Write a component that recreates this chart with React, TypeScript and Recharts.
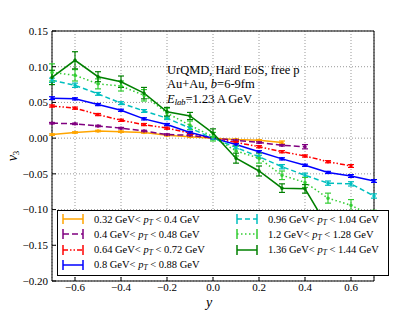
import React from "react";
import {
  LineChart,
  Line,
  XAxis,
  YAxis,
  CartesianGrid,
  ErrorBar,
  ReferenceArea,
} from "recharts";

const Y_VALUES = [-0.7, -0.6, -0.5, -0.4, -0.3, -0.2, -0.1, 0, 0.1, 0.2, 0.3, 0.4, 0.5, 0.6, 0.7];

const V3_032 = [0.005, 0.008, 0.01, 0.009, 0.008, 0.004, 0.002, 0.0, -0.002, -0.003, -0.006];
const V3_040 = [0.021, 0.02, 0.017, 0.014, 0.01, 0.005, 0.004, 0.0, -0.003, -0.006, -0.01, -0.012];
const V3_064 = [0.045, 0.042, 0.033, 0.025, 0.019, 0.014, 0.007, 0.0, -0.006, -0.012, -0.019, -0.025, -0.033, -0.039];
const V3_080 = [0.056, 0.055, 0.047, 0.039, 0.027, 0.019, 0.008, 0.0, -0.009, -0.019, -0.029, -0.038, -0.048, -0.053, -0.06];
const V3_096 = [0.081, 0.074, 0.062, 0.049, 0.038, 0.028, 0.014, 0.0, -0.013, -0.026, -0.04, -0.052, -0.063, -0.064, -0.081];
const V3_120 = [0.092, 0.088, 0.076, 0.073, 0.06, 0.035, 0.018, 0.002, -0.018, -0.028, -0.052, -0.062, -0.084, -0.094, -0.11];
const V3_136 = [0.085, 0.109, 0.086, 0.079, 0.063, 0.037, 0.031, 0.007, -0.028, -0.046, -0.07, -0.071, -0.125, -0.15, -0.17];

const ERR_032 = [0.001, 0.001, 0.001, 0.001, 0.001, 0.001, 0.001, 0.001, 0.001, 0.001, 0.002];
const ERR_040 = [0.001, 0.001, 0.001, 0.001, 0.001, 0.001, 0.001, 0.001, 0.001, 0.001, 0.001, 0.003];
const ERR_064 = [0.0015, 0.0015, 0.0015, 0.0015, 0.0015, 0.0015, 0.0015, 0.0015, 0.0015, 0.0015, 0.0015, 0.0015, 0.0015, 0.002];
const ERR_080 = [0.002, 0.0015, 0.0015, 0.0015, 0.0015, 0.0015, 0.0015, 0.0015, 0.0015, 0.0015, 0.0015, 0.0015, 0.0015, 0.002, 0.002];
const ERR_096 = [0.003, 0.003, 0.002, 0.002, 0.002, 0.002, 0.002, 0.002, 0.002, 0.002, 0.003, 0.003, 0.003, 0.003, 0.003];
const ERR_120 = [0.012, 0.008, 0.007, 0.007, 0.008, 0.007, 0.006, 0.006, 0.007, 0.007, 0.006, 0.007, 0.007, 0.008, 0.009];
const ERR_136 = [0.01, 0.012, 0.007, 0.008, 0.008, 0.006, 0.005, 0.006, 0.007, 0.007, 0.006, 0.006, 0.008, 0.01, 0.012];

const Y_TICKS = [-0.2, -0.15, -0.1, -0.05, 0, 0.05, 0.1, 0.15];
const X_TICKS = [-0.6, -0.4, -0.2, 0, 0.2, 0.4, 0.6];

const SERIES = [
  { key: "a", lo: "0.32", hi: "0.4", vals: V3_032, errs: ERR_032, color: "#ffa500", dash: undefined },
  { key: "b", lo: "0.4", hi: "0.48", vals: V3_040, errs: ERR_040, color: "#800080", dash: "6 3" },
  { key: "c", lo: "0.64", hi: "0.72", vals: V3_064, errs: ERR_064, color: "#ff0000", dash: "5 2 1.5 2 1.5 2" },
  { key: "d", lo: "0.8", hi: "0.88", vals: V3_080, errs: ERR_080, color: "#0000ff", dash: undefined },
  { key: "e", lo: "0.96", hi: "1.04", vals: V3_096, errs: ERR_096, color: "#00bfbf", dash: "5 3" },
  { key: "f", lo: "1.2", hi: "1.28", vals: V3_120, errs: ERR_120, color: "#32cd32", dash: "1.5 2.5" },
  { key: "g", lo: "1.36", hi: "1.44", vals: V3_136, errs: ERR_136, color: "#008000", dash: undefined },
];

const data = Y_VALUES.map((y, i) => {
  const row: any = { y };
  SERIES.forEach((s) => {
    if (i < s.vals.length) {
      row[s.key] = s.vals[i];
      row[s.key + "Err"] = s.errs[i];
    }
  });
  return row;
});

const SERIF = "'Liberation Serif', 'Times New Roman', serif";
const fmt = (d: number) => (v: number) =>
  (v < 0 ? "\u2212" : "") + Math.abs(v).toFixed(d);

const LegendHandle = ({ color, dash }: { color: string; dash?: string }) => (
  <svg width={22} height={12} style={{ display: "block" }}>
    <line x1={1} y1={6} x2={21} y2={6} stroke={color} strokeWidth={1.5} strokeDasharray={dash} />
    <line x1={1} y1={1} x2={1} y2={11} stroke={color} strokeWidth={1.5} />
    <line x1={21} y1={1} x2={21} y2={11} stroke={color} strokeWidth={1.5} />
  </svg>
);

const LegendLabel = ({ lo, hi }: { lo: string; hi: string }) => (
  <span>
    {lo} GeV&lt; <i>p</i>
    <i style={{ fontSize: 7.5, position: "relative", top: 2 }}>T</i> &lt; {hi} GeV
  </span>
);

export default function App() {
  return (
    <div style={{ position: "absolute", left: 0, top: 0, width: 415, height: 312, background: "#fff" }}>
      <LineChart
        width={415}
        height={312}
        data={data}
        margin={{ top: 31, right: 41, bottom: 0, left: 0 }}
      >
        <CartesianGrid stroke="#999" strokeDasharray="1 2" />
        <XAxis
          dataKey="y"
          type="number"
          domain={[-0.7, 0.7]}
          ticks={X_TICKS}
          tickFormatter={fmt(1)}
          height={31}
          axisLine={false}
          tickSize={-4}
          tickMargin={6}
          tickLine={{ stroke: "#000" }}
          tick={{ fontSize: 11, fontFamily: SERIF, fill: "#000" }}
        />
        <YAxis
          type="number"
          domain={[-0.2, 0.15]}
          ticks={Y_TICKS}
          tickFormatter={fmt(2)}
          width={52}
          allowDataOverflow
          axisLine={false}
          tickSize={-4}
          tickMargin={8}
          tickLine={{ stroke: "#000" }}
          tick={{ fontSize: 11, fontFamily: SERIF, fill: "#000" }}
        />
        {SERIES.map((s) => (
          <Line
            key={s.key}
            dataKey={s.key}
            stroke={s.color}
            strokeWidth={1.5}
            strokeDasharray={s.dash}
            dot={{ r: 1, fill: s.color, stroke: s.color, strokeDasharray: "" }}
            isAnimationActive={false}
          >
            <ErrorBar
              dataKey={s.key + "Err"}
              direction="y"
              width={3}
              stroke={s.color}
              strokeWidth={1.2}
              isAnimationActive={false}
            />
          </Line>
        ))}
        <ReferenceArea x1={-0.7} x2={0.7} y1={-0.2} y2={0.15} fill="none" stroke="#000" strokeWidth={1} />
      </LineChart>

      <div style={{ position: "absolute", left: 167, top: 63, fontFamily: SERIF, fontSize: 12.5, lineHeight: "14.4px", color: "#000" }}>
        <div>UrQMD, Hard EoS, free p</div>
        <div>Au+Au, <i>b</i>=6-9fm</div>
        <div>
          <i>E</i>
          <i style={{ fontSize: 8.5, position: "relative", top: 2 }}>lab</i>=1.23 A GeV
        </div>
      </div>

      <div style={{ position: "absolute", left: 206, top: 295, fontFamily: SERIF, fontSize: 14, fontStyle: "italic" }}>y</div>
      <div
        style={{
          position: "absolute",
          left: -2,
          top: 148,
          width: 30,
          textAlign: "center",
          fontFamily: SERIF,
          fontSize: 14,
          transform: "rotate(-90deg)",
        }}
      >
        <i>v</i>
        <span style={{ fontSize: 9, position: "relative", top: 2 }}>3</span>
      </div>

      <div
        style={{
          position: "absolute",
          left: 57,
          top: 210,
          width: 330,
          height: 64,
          border: "1px solid #000",
          background: "#fff",
          fontFamily: SERIF,
          fontSize: 10.5,
          color: "#000",
        }}
      >
        {SERIES.map((s, i) => {
          const col = i < 4 ? 0 : 1;
          const row = i < 4 ? i : i - 4;
          return (
            <div
              key={s.key}
              style={{
                position: "absolute",
                left: col === 0 ? 4 : 178,
                top: 2 + row * 15.3,
                height: 12,
                display: "flex",
                alignItems: "center",
                whiteSpace: "nowrap",
              }}
            >
              <LegendHandle color={s.color} dash={s.dash} />
              <span style={{ marginLeft: 10 }}>
                <LegendLabel lo={s.lo} hi={s.hi} />
              </span>
            </div>
          );
        })}
      </div>
    </div>
  );
}
